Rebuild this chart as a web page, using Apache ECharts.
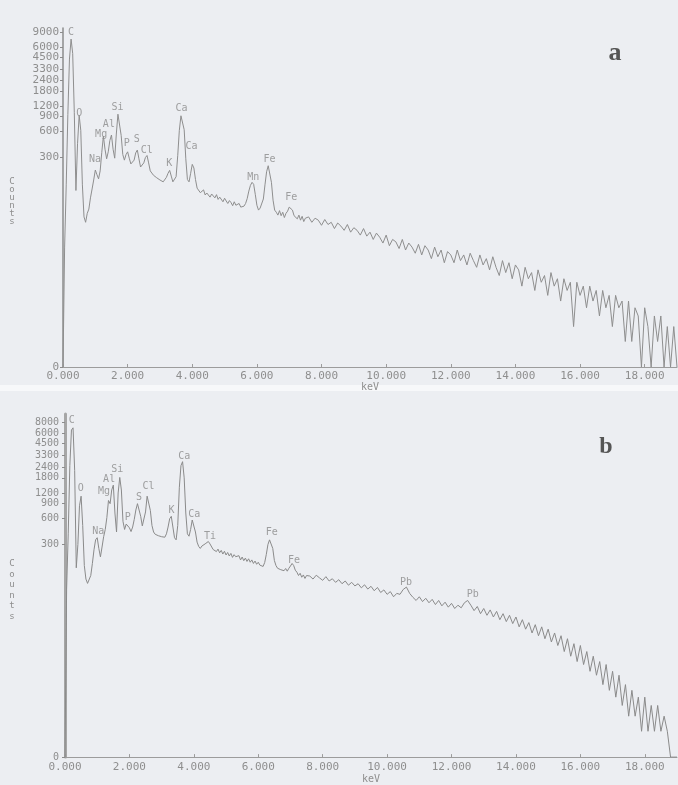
<!DOCTYPE html>
<html><head><meta charset="utf-8">
<script src="https://cdn.jsdelivr.net/npm/echarts@6/dist/echarts.min.js"></script>
<style>html,body{margin:0;padding:0;background:#eceef2}#c{width:678px;height:785px}</style>
</head><body><div id="c"></div>
<script>
// Channel layout: fine channels 0.00–7.50 keV (0.05 keV), coarse channels 7.6–19.0 keV (0.1 keV)
const lowStart = 0, lowStep = 0.05;
const highStart = 7.6, highStep = 0.1;

// Spectrum a (counts)
const countsA_low = [
0,25,140,950,4300,7400,5000,1000,120,430,930,620,140,58,50,64,72,98,125,160,
210,185,165,205,340,530,370,285,345,470,545,370,290,560,960,990,540,320,275,320,
345,290,248,236,275,335,362,285,228,224,255,295,312,255,205,198,182,178,170,175,
160,168,152,160,172,192,208,178,152,145,175,310,620,920,960,630,285,162,152,192,
245,222,162,128,124,113,119,122,106,112,116,100,109,104,98,107,94,100,96,88,
97,90,84,91,86,79,88,80,77,84,76,80,78,84,96,118,138,150,142,108,
80,70,74,72,95,140,200,236,225,150,92,70,66,61,69,60,66,57,64,68,
76,80,70,60,63,55,61,53,59,51,56];
const countsA_high = [
58,50,56,53,46,54,47,50,42,49,
45,40,47,38,43,40,35,42,34,38,
31,37,33,28,35,26,31,29,24,31,
23,28,25,21,27,20,26,23,18,25,
19,23,16,22,20,16,23,17,20,15,
21,17,14,20,15,18,13,19,14,11,
17,12,16,10,15,13,8,14,10,12,
7,13,9,11,6,12,8,10,5,10,
7,9,2,9,6,8,4,8,5,7,
3,7,4,6,2,6,4,5,1,5,
1,4,3,0,4,2,0,3,1,3,
0,2,0,2,0];

// Spectrum b (counts)
const countsB_low = [
0,90,400,2500,6500,6900,2200,160,300,850,1100,500,170,118,105,100,130,180,260,340,
360,270,215,280,370,450,620,980,900,1300,1480,700,420,1200,1820,1300,560,450,520,545,
470,425,480,590,760,900,880,640,495,520,720,1100,1120,750,500,420,395,405,380,390,
370,385,365,400,480,600,640,480,360,340,500,1400,2500,2780,1800,700,400,375,450,580,
560,420,320,285,270,288,278,305,300,325,305,290,262,275,248,265,240,256,232,250,
226,242,220,236,212,228,216,205,222,198,214,194,208,190,204,186,198,180,192,176,
186,172,180,166,185,230,300,340,345,270,195,170,158,166,152,160,148,157,146,158,
168,180,170,150,142,130,138,124,132,120,130];
const countsB_high = [
128,118,131,122,114,126,112,119,108,116,
104,112,100,108,98,104,93,101,90,97,
86,94,82,88,78,84,73,80,78,89,
95,80,72,66,73,64,70,62,68,59,
66,57,63,55,61,53,58,54,62,66,
58,50,56,46,53,44,51,42,49,39,
46,37,44,35,42,32,39,30,36,27,
34,25,32,23,30,21,27,19,25,16,
23,14,20,12,19,11,16,9,14,8,
12,6,11,5,9,4,8,3,6,2,
5,2,4,1,4,1,3,1,3,1,
2,1,0,0,0];

// Axis ticks
const xTicks = [0,2,4,6,8,10,12,14,16,18];
const yTicksA = [0,300,600,900,1200,1800,2400,3300,4500,6000,9000];
const yTicksB = [0,300,600,900,1200,1800,2400,3300,4500,6000,8000];

// Peak labels [element, keV, counts at label]
const peakNamesA = ['C','O','Na','Mg','Al','Si','P','S','Cl','K','Ca','Ca','Mn','Fe','Fe'];
const peakEA     = [0.25,0.50,0.99,1.18,1.42,1.69,1.97,2.28,2.59,3.29,3.67,3.98,5.89,6.39,7.06];
const peakCA     = [8770,970,278,548,720,1151,430,479,358,249,1112,399,172,283,99];
const peakNamesB = ['C','O','Na','Mg','Al','Si','P','S','Cl','K','Ca','Ca','Ti','Fe','Fe','Pb','Pb'];
const peakEB     = [0.21,0.49,1.03,1.21,1.37,1.62,1.95,2.30,2.59,3.31,3.70,4.01,4.50,6.42,7.11,10.59,12.66];
const peakCB     = [8360,1368,428,1250,1709,2233,622,1075,1428,751,3190,682,374,410,195,109,78];

const tr = c => Math.log10(c + 1);
function buildSeries(low, high) {
  const out = [];
  low.forEach((c, i) => out.push([+(lowStart + i * lowStep).toFixed(2), tr(c)]));
  high.forEach((c, i) => out.push([+(highStart + i * highStep).toFixed(2), tr(c)]));
  return out;
}
const dataA = buildSeries(countsA_low, countsA_high);
const dataB = buildSeries(countsB_low, countsB_high);
const labelData = (n, e, c) => n.map((name, i) => ({ name, value: [e[i], tr(c[i])] }));

const txt = '#8e8e8e';
const mono = 'DejaVu Sans Mono';

function xAxis(gi, margin, gap) {
  return {
    gridIndex: gi, type: 'value', min: 0, max: 19,
    axisLine: { show: true, onZero: false, lineStyle: { color: '#9c9c9c', width: 1 } },
    axisTick: { show: true, inside: true, length: 3, customValues: xTicks, lineStyle: { color: '#9c9c9c' } },
    axisLabel: { customValues: xTicks, formatter: v => v.toFixed(3), color: txt, fontFamily: mono, fontSize: 11, margin, hideOverlap: false },
    splitLine: { show: false },
    name: 'keV', nameLocation: 'middle', nameGap: gap,
    nameTextStyle: { color: txt, fontFamily: mono, fontSize: 10 }
  };
}
function yAxis(gi, ticks, margin, lw, lc, fs) {
  const tv = ticks.map(tr);
  return {
    gridIndex: gi, type: 'value', min: 0, max: 4,
    axisLine: { show: true, lineStyle: { color: lc, width: lw } },
    axisTick: { show: true, length: 3, customValues: tv, lineStyle: { color: '#8c8c8c' } },
    axisLabel: { customValues: tv, formatter: v => String(Math.round(Math.pow(10, v) - 1)), color: txt, fontFamily: mono, fontSize: fs, lineHeight: fs, margin, hideOverlap: false },
    splitLine: { show: false }
  };
}
function lineSeries(i, data, color) {
  return { type: 'line', xAxisIndex: i, yAxisIndex: i, data, showSymbol: false, symbol: 'none',
    lineStyle: { color, width: 1 }, animation: false, silent: true };
}
function labelSeries(i, data) {
  return { type: 'scatter', xAxisIndex: i, yAxisIndex: i, data, symbolSize: 1,
    itemStyle: { color: 'rgba(0,0,0,0)' }, silent: true, animation: false,
    label: { show: true, position: 'inside', formatter: p => p.name, color: '#8a8a8a', fontFamily: mono, fontSize: 10 },
    labelLayout: { hideOverlap: false } };
}

const chart = echarts.init(document.getElementById('c'));
chart.setOption({
  backgroundColor: '#eceef2',
  animation: false,
  grid: [
    { left: 63, top: 28, width: 614, height: 339 },
    { left: 65, top: 414, width: 612, height: 344 }
  ],
  xAxis: [xAxis(0, 4, 13), xAxis(1, 5, 14)],
  yAxis: [yAxis(0, yTicksA, 4, 1.5, '#8c8c8c', 11), yAxis(1, yTicksB, 6, 3, '#a6a6a6', 10)],
  series: [
    lineSeries(0, dataA, '#8e8e8e'),
    lineSeries(1, dataB, '#8a8a8a'),
    labelSeries(0, labelData(peakNamesA, peakEA, peakCA)),
    labelSeries(1, labelData(peakNamesB, peakEB, peakCB))
  ],
  graphic: [
    { type: 'rect', shape: { x: 0, y: 385, width: 678, height: 6 }, style: { fill: '#f7f8fa' }, silent: true },
    { type: 'text', x: 12, y: 202, style: { text: 'C\no\nu\nn\nt\ns', fill: txt, font: '9px DejaVu Sans Mono', lineHeight: 8, align: 'center', verticalAlign: 'middle' } },
    { type: 'text', x: 12, y: 590, style: { text: 'C\no\nu\nn\nt\ns', fill: txt, font: '9px DejaVu Sans Mono', lineHeight: 10.5, align: 'center', verticalAlign: 'middle' } },
    { type: 'text', x: 615, y: 53, style: { text: 'a', fill: '#555', font: 'bold 26px "Liberation Serif"', align: 'center', verticalAlign: 'middle' } },
    { type: 'text', x: 606, y: 447, style: { text: 'b', fill: '#555', font: 'bold 24px "Liberation Serif"', align: 'center', verticalAlign: 'middle' } }
  ]
});
</script></body></html>
